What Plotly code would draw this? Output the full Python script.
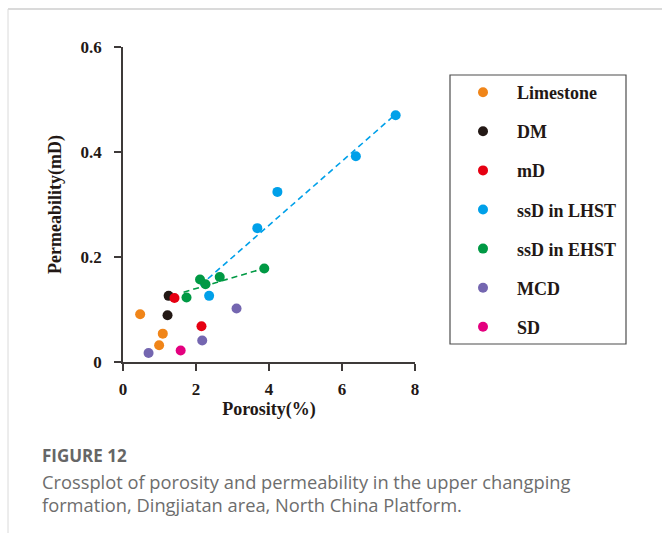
import plotly.graph_objects as go

# ---- data ----
limestone_x = [0.47, 1.09, 0.99]
limestone_y = [0.091, 0.054, 0.032]
dm_x = [1.25, 1.22]
dm_y = [0.126, 0.089]
md_x = [1.41, 2.15]
md_y = [0.122, 0.068]
lhst_x = [7.47, 6.38, 4.23, 3.68, 2.36]
lhst_y = [0.470, 0.392, 0.324, 0.255, 0.126]
ehst_x = [3.87, 2.65, 2.11, 2.26, 1.74]
ehst_y = [0.178, 0.162, 0.157, 0.148, 0.123]
mcd_x = [3.11, 2.17, 0.70]
mcd_y = [0.102, 0.041, 0.017]
sd_x = [1.58]
sd_y = [0.022]

lhst_trend_x = [2.12, 7.47]
lhst_trend_y = [0.146, 0.472]
ehst_trend_x = [1.66, 3.85]
ehst_trend_y = [0.133, 0.178]

x_ticks = [0, 2, 4, 6, 8]
x_ticklabels = ["0", "2", "4", "6", "8"]
y_ticks = [0, 0.2, 0.4, 0.6]
y_ticklabels = ["0", "0.2", "0.4", "0.6"]

series = [
    ("Limestone", limestone_x, limestone_y, "#F08519"),
    ("DM", dm_x, dm_y, "#231815"),
    ("mD", md_x, md_y, "#E60012"),
    ("ssD in LHST", lhst_x, lhst_y, "#00A0E9"),
    ("ssD in EHST", ehst_x, ehst_y, "#009944"),
    ("MCD", mcd_x, mcd_y, "#7466B0"),
    ("SD", sd_x, sd_y, "#E4007F"),
]

W, H = 662, 533
L, R, T, B = 123, 247, 47, 171
PW, PH = W - L - R, H - T - B


def px(x):
    return (x - L) / PW


def py(y):
    return (H - B - y) / PH


fig = go.Figure()

fig.add_trace(go.Scatter(x=lhst_trend_x, y=lhst_trend_y, mode="lines",
                         line=dict(color="#00A0E9", width=1.6, dash="6px,4px"),
                         showlegend=False, hoverinfo="skip"))
fig.add_trace(go.Scatter(x=ehst_trend_x, y=ehst_trend_y, mode="lines",
                         line=dict(color="#009944", width=1.6, dash="6px,4px"),
                         showlegend=False, hoverinfo="skip"))

for i, (name, xs, ys, col) in enumerate(series):
    fig.add_trace(go.Scatter(x=xs, y=ys, mode="markers", name=name,
                             legendgroup="g%d" % i,
                             marker=dict(color=col, size=10, line=dict(width=0))))

serif = "Liberation Serif"
axis_col = "#3E3A39"
txt_col = "#231815"
tickfont = dict(family=serif, size=17, color=txt_col, weight="bold")
titlefont = dict(family=serif, size=18, color=txt_col, weight="bold")

fig.update_xaxes(range=[0, 8], tickvals=x_ticks, ticktext=x_ticklabels,
                 showline=True, linecolor=axis_col, linewidth=1.5,
                 ticks="outside", ticklen=7, tickwidth=1.5, tickcolor=axis_col,
                 ticklabelstandoff=4,
                 showgrid=False, zeroline=False, tickfont=tickfont,
                 title=dict(text="Porosity(%)", standoff=4, font=titlefont))
fig.update_yaxes(range=[0, 0.6], tickvals=y_ticks, ticktext=y_ticklabels,
                 showline=True, linecolor=axis_col, linewidth=1.5,
                 ticks="outside", ticklen=7, tickwidth=1.5, tickcolor=axis_col,
                 ticklabelstandoff=9,
                 showgrid=False, zeroline=False, tickfont=tickfont,
                 title=dict(text="Permeability(mD)", standoff=14, font=titlefont))

fig.update_layout(
    width=W, height=H,
    margin=dict(l=L, r=R, t=T, b=B, autoexpand=False),
    paper_bgcolor="white", plot_bgcolor="white",
    font=dict(family=serif, color=txt_col),
    showlegend=True,
    legend=dict(x=px(449), y=py(74), xanchor="left", yanchor="top",
                traceorder="grouped", tracegroupgap=12.7,
                itemwidth=58, bgcolor="rgba(0,0,0,0)", borderwidth=0,
                font=dict(family=serif, size=18, color=txt_col, weight="bold")),
    shapes=[
        dict(type="rect", xref="paper", yref="paper",
             x0=px(450), x1=px(626), y0=py(344), y1=py(75),
             line=dict(color="#4D4D4D", width=1.2)),
        dict(type="line", xref="paper", yref="paper",
             x0=px(8), x1=px(662), y0=py(9), y1=py(9),
             line=dict(color="#DADADA", width=2)),
        dict(type="line", xref="paper", yref="paper",
             x0=px(8), x1=px(8), y0=py(9), y1=py(533),
             line=dict(color="#DADADA", width=1)),
    ],
    annotations=[
        dict(text="<b>FIGURE 12</b>", xref="paper", yref="paper",
             x=px(40), y=py(455), xanchor="left", yanchor="middle",
             showarrow=False, font=dict(family="Open Sans", size=17, color="#666666")),
        dict(text="Crossplot of porosity and permeability in the upper changping",
             xref="paper", yref="paper", x=px(40), y=py(481),
             xanchor="left", yanchor="middle", align="left",
             showarrow=False, font=dict(family="Open Sans", size=18.3, color="#6D6D6D")),
        dict(text="formation, Dingjiatan area, North China Platform.",
             xref="paper", yref="paper", x=px(40), y=py(504),
             xanchor="left", yanchor="middle", align="left",
             showarrow=False, font=dict(family="Open Sans", size=18.3, color="#6D6D6D")),
    ],
)

fig.write_html("out.html")
